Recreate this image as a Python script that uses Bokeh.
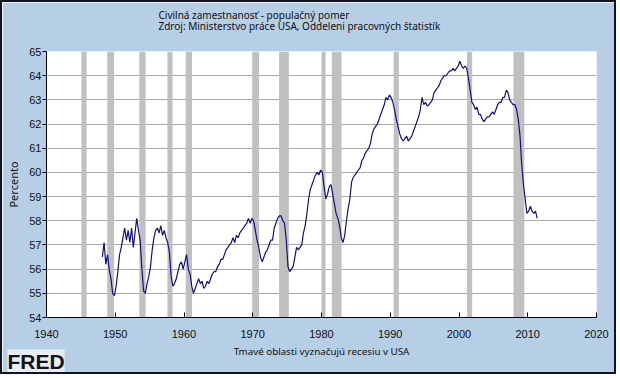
import pandas as pd
from bokeh.plotting import figure
from bokeh.models import Range1d, FixedTicker, Title
from bokeh.embed import file_html
from bokeh.resources import INLINE

# ---------------- data ----------------
title_text = "Civilná zamestnanosť - populačný pomer"
subtitle_text = "Zdroj: Ministerstvo práce USA, Oddeleni pracovných štatistík"
note_text = "Tmavé oblasti vyznačujú recesiu v USA"
logo_text = "FRED"
y_label = "Percento"

start_quarter = "1948Q1"
emp_ratio = [
    56.5, 57.1, 56.2, 56.6,   # 1948
    56.0, 55.6, 55.0, 54.9,   # 1949
    55.3, 55.9, 56.6, 56.9,   # 1950
    57.3, 57.7, 57.2, 57.6,   # 1951
    57.1, 57.7, 56.9, 57.5,   # 1952
    58.1, 57.6, 57.2, 56.0,   # 1953
    55.1, 55.0, 55.4, 55.7,   # 1954
    56.1, 56.8, 57.3, 57.6,   # 1955
    57.7, 57.5, 57.8, 57.4,   # 1956
    57.6, 57.3, 57.1, 56.7,   # 1957
    55.7, 55.3, 55.4, 55.6,   # 1958
    55.9, 56.2, 56.3, 56.0,   # 1959
    56.3, 56.6, 56.0, 55.8,   # 1960
    55.3, 55.0, 55.2, 55.4,   # 1961
    55.6, 55.4, 55.5, 55.2,   # 1962
    55.3, 55.5, 55.4, 55.6,   # 1963
    55.8, 55.9, 55.9, 56.1,   # 1964
    56.2, 56.4, 56.4, 56.6,   # 1965
    56.8, 56.9, 57.0, 57.1,   # 1966
    57.3, 57.1, 57.4, 57.3,   # 1967
    57.5, 57.6, 57.7, 57.8,   # 1968
    57.9, 58.1, 57.9, 58.1,   # 1969
    58.0, 57.6, 57.2, 56.9,   # 1970
    56.5, 56.3, 56.5, 56.7,   # 1971
    56.8, 57.0, 57.2, 57.2,   # 1972
    57.7, 57.9, 58.1, 58.2,   # 1973
    58.2, 58.0, 57.9, 57.2,   # 1974
    56.1, 55.9, 56.0, 56.1,   # 1975
    56.5, 56.9, 56.8, 56.9,   # 1976
    57.0, 57.5, 57.8, 58.3,   # 1977
    58.9, 59.3, 59.5, 59.7,   # 1978
    59.9, 60.0, 59.9, 60.1,   # 1979
    60.0, 59.4, 58.9, 59.1,   # 1980
    59.4, 59.5, 59.1, 58.7,   # 1981
    58.3, 58.1, 57.8, 57.3,   # 1982
    57.1, 57.4, 58.0, 58.5,   # 1983
    58.9, 59.6, 59.8, 59.9,   # 1984
    60.0, 60.1, 60.2, 60.5,   # 1985
    60.6, 60.8, 60.9, 61.0,   # 1986
    61.2, 61.6, 61.8, 61.9,   # 1987
    62.0, 62.2, 62.4, 62.6,   # 1988
    62.8, 63.1, 63.0, 63.2,   # 1989
    63.1, 62.9, 62.6, 62.2,   # 1990
    61.9, 61.6, 61.4, 61.3,   # 1991
    61.4, 61.5, 61.3, 61.4,   # 1992
    61.5, 61.7, 61.9, 62.1,   # 1993
    62.3, 62.6, 63.1, 62.8,   # 1994
    62.9, 62.75, 62.8, 62.9,  # 1995
    63.0, 63.3, 63.4, 63.5,   # 1996
    63.6, 63.8, 63.9, 64.0,   # 1997
    64.0, 64.1, 64.2, 64.2,   # 1998
    64.3, 64.2, 64.3, 64.4,   # 1999
    64.6, 64.4, 64.3, 64.4,   # 2000
    64.3, 63.9, 63.4, 62.9,   # 2001
    62.8, 62.6, 62.7, 62.4,   # 2002
    62.4, 62.2, 62.1, 62.2,   # 2003
    62.3, 62.3, 62.4, 62.5,   # 2004
    62.4, 62.6, 62.8, 62.9,   # 2005
    62.9, 63.1, 63.1, 63.4,   # 2006
    63.3, 63.0, 62.9, 62.8,   # 2007
    62.8, 62.6, 62.2, 61.5,   # 2008
    60.3, 59.5, 58.9, 58.3,   # 2009
    58.4, 58.6, 58.4, 58.3,   # 2010
    58.4, 58.1,               # 2011
]

rec_start = ["1945-02", "1948-11", "1953-07", "1957-08", "1960-04", "1969-12",
             "1973-11", "1980-01", "1981-07", "1990-07", "2001-03", "2007-12"]
rec_end = ["1945-10", "1949-10", "1954-05", "1958-04", "1961-02", "1970-11",
           "1975-03", "1980-07", "1982-11", "1991-03", "2001-11", "2009-06"]

x_ticks = [1940, 1950, 1960, 1970, 1980, 1990, 2000, 2010, 2020]
y_ticks = [54, 55, 56, 57, 58, 59, 60, 61, 62, 63, 64, 65]

# ---------------- derived positions ----------------
periods = pd.period_range(start=start_quarter, periods=len(emp_ratio), freq="Q")
x_vals = [p.year + (p.quarter - 1) / 4 + 0.125 for p in periods]
rec_left = [pd.Period(s, "M").year + (pd.Period(s, "M").month - 1) / 12 for s in rec_start]
rec_right = [pd.Period(s, "M").year + pd.Period(s, "M").month / 12 for s in rec_end]

# ---------------- style ----------------
W, H = 616, 374
BG = "#B6CEE6"
TXT = "#111111"
FONT = "Liberation Sans"
TFONT = "Noto Sans"

p = figure(width=W, height=H, x_range=Range1d(x_ticks[0], x_ticks[-1]),
           y_range=Range1d(y_ticks[0], y_ticks[-1]),
           output_backend="svg", toolbar_location=None,
           min_border_left=44, min_border_right=22, min_border_top=49,
           min_border_bottom=59)
p.border_fill_color = BG
p.background_fill_color = "white"
p.outline_line_color = None
p.styles = {"border": "2px solid #0E1424"}

p.xgrid.visible = False
p.ygrid.grid_line_color = "#A8A8A8"
p.ygrid.grid_line_width = 1

p.quad(left=rec_left, right=rec_right, bottom=y_ticks[0], top=y_ticks[-1],
       fill_color="#C0C0C0", line_color=None)
p.line(x_vals, emp_ratio, line_color="#10108A", line_width=1.2)

xa = p.xaxis[0]
xa.ticker = FixedTicker(ticks=x_ticks)
xa.major_tick_in = 5
xa.major_tick_out = 0
xa.minor_tick_line_color = None
xa.axis_line_color = "black"
xa.major_tick_line_color = "black"
xa.major_label_standoff = 12
xa.major_label_text_font = FONT
xa.major_label_text_font_size = "11px"
xa.major_label_text_color = TXT

ya = p.yaxis[0]
ya.ticker = FixedTicker(ticks=y_ticks)
ya.major_tick_in = 0
ya.major_tick_out = 4
ya.minor_tick_line_color = None
ya.axis_line_color = "black"
ya.major_tick_line_color = "black"
ya.major_label_standoff = 1
ya.major_label_text_font = FONT
ya.major_label_text_font_size = "11px"
ya.major_label_text_color = TXT
ya.axis_label = y_label
ya.axis_label_text_font = TFONT
ya.axis_label_text_font_size = "11px"
ya.axis_label_text_font_style = "normal"
ya.axis_label_text_color = TXT
ya.axis_label_standoff = 5

# spacer nearest the frame, then a two-line heading (title + source)
p.add_layout(Title(text=" ", text_font_size="1px", standoff=15), "above")
p.add_layout(Title(text=title_text + "\n" + subtitle_text, align="left", offset=112,
                   vertical_align="bottom", text_font=TFONT, text_font_size="10px",
                   text_line_height=0.85, text_font_style="normal",
                   text_color=TXT, standoff=0), "above")
# note below the axis
p.add_layout(Title(text=note_text, align="center",
                   text_font=TFONT, text_font_size="9.8px",
                   text_font_style="normal", text_color=TXT, standoff=4), "below")
# FRED logo at the bottom-left corner (negative standoff lets it overlap the note row)
p.add_layout(Title(text=logo_text, align="left", offset=-39,
                   vertical_align="bottom", text_font="Liberation Sans",
                   text_font_size="21px", text_font_style="bold",
                   text_color="#141414", background_fill_color="#E9EEF3",
                   standoff=-24), "below")

open("out.html", "w").write(file_html(p, INLINE))
